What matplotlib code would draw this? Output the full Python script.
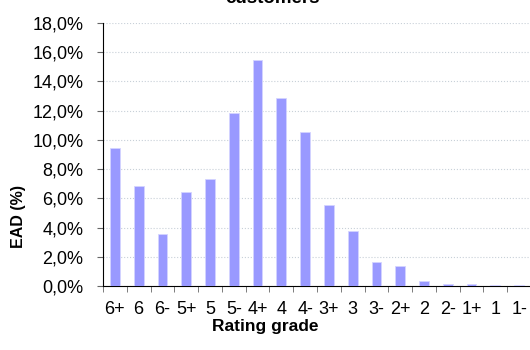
import matplotlib.pyplot as plt
from matplotlib.ticker import FuncFormatter, MultipleLocator

grades = ['6+', '6', '6-', '5+', '5', '5-', '4+', '4', '4-',
          '3+', '3', '3-', '2+', '2', '2-', '1+', '1', '1-']
ead_pct = [9.45, 6.85, 3.56, 6.46, 7.35, 11.83, 15.5, 12.9, 10.55,
           5.53, 3.77, 1.62, 1.39, 0.34, 0.14, 0.14, 0.05, 0.05]

plt.rcParams['font.family'] = ['Liberation Sans', 'DejaVu Sans']

fig = plt.figure(figsize=(5.3, 3.5), dpi=100)
ax = fig.add_axes([103 / 530, 1 - 286 / 350, 428 / 530, 263 / 350])

x = range(len(grades))
ax.bar(x, [v / 100 for v in ead_pct], width=0.41, color='#9999ff',
       edgecolor='#d4d4ff', linewidth=0.6, zorder=3)

ax.set_xlim(-0.5, len(grades) - 0.5)
ax.set_ylim(0, 0.18)
ax.yaxis.set_major_locator(MultipleLocator(0.02))
ax.yaxis.set_major_formatter(FuncFormatter(lambda v, p: f'{v * 100:.1f}%'.replace('.', ',')))
ax.grid(axis='y', color='#c8d0d8', linestyle=':', linewidth=0.8, zorder=0)

# category labels centred, tick marks on the boundaries
ax.set_xticks(list(x))
ax.set_xticklabels(grades, fontsize=13)
ax.tick_params(axis='x', which='major', length=0, pad=11)
ax.set_xticks([i - 0.5 for i in range(len(grades) + 1)], minor=True)
ax.tick_params(axis='x', which='minor', length=4, color='#666666', direction='out')
ax.tick_params(axis='y', length=4, color='#666666', labelsize=13, pad=10)

for s in ['top', 'right']:
    ax.spines[s].set_visible(False)
ax.spines['left'].set_color('black')
ax.spines['bottom'].set_color('black')

fig.text(265 / 530, 1 - 326 / 350, 'Rating grade', ha='center', va='center',
         fontsize=12.5, fontweight='bold')
fig.text(19 / 530, 1 - 217 / 350, 'EAD (%)', ha='center', va='center',
         rotation=90, fontsize=11.5, fontweight='bold')
fig.text(272 / 530, 1 - 2.7 / 350, 'customers', ha='center', va='baseline',
         fontsize=13.5, fontweight='bold')

fig.savefig('out.png', dpi=100)
